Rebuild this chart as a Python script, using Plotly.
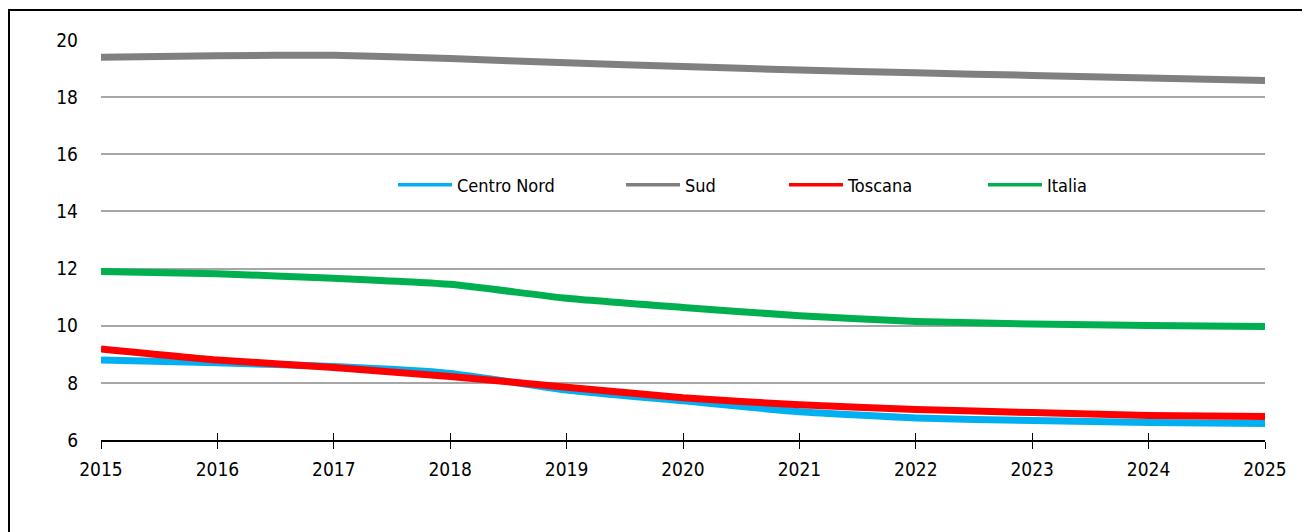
import plotly.graph_objects as go

years = [2015, 2016, 2017, 2018, 2019, 2020, 2021, 2022, 2023, 2024, 2025]
centro_nord = [8.80, 8.70, 8.57, 8.33, 7.75, 7.37, 6.99, 6.77, 6.68, 6.61, 6.58]
sud = [19.40, 19.45, 19.47, 19.35, 19.20, 19.07, 18.95, 18.85, 18.76, 18.67, 18.58]
toscana = [9.19, 8.80, 8.54, 8.22, 7.85, 7.48, 7.23, 7.07, 6.96, 6.86, 6.82]
italia = [11.90, 11.82, 11.66, 11.45, 10.96, 10.64, 10.35, 10.15, 10.06, 10.01, 9.97]
y_ticks = [6, 8, 10, 12, 14, 16, 18, 20]

series = [
    ("Centro Nord", centro_nord, "#00B0F0", "legend"),
    ("Sud", sud, "#808080", "legend2"),
    ("Toscana", toscana, "#FF0000", "legend3"),
    ("Italia", italia, "#00B050", "legend4"),
]

FONT = "Liberation Sans Narrow, DejaVu Sans Condensed, Arial Narrow, Liberation Sans, sans-serif"

fig = go.Figure()
for name, vals, color, lg in series:
    fig.add_trace(go.Scatter(x=years, y=vals, mode="lines", name=name,
                             line=dict(color=color, width=7, shape="spline", smoothing=0.5),
                             showlegend=False, hoverinfo="skip"))
for name, vals, color, lg in series:
    fig.add_trace(go.Scatter(x=[None], y=[None], mode="lines", name=name,
                             line=dict(color=color, width=3.5), legend=lg, showlegend=True))

# secondary axis to draw the upper half of crossing tick marks
fig.add_trace(go.Scatter(x=years, y=[None]*len(years), xaxis="x2", showlegend=False, hoverinfo="skip"))

# page body offset of 8px in the browser
OFF = 8
W, H = 1310 - OFF, 532 - OFF
ml, mt = 101 - OFF, 40 - OFF
pw, ph = 1164, 400
mr, mb = W - ml - pw, H - mt - ph

def px_x(p):
    return (p - OFF - ml) / pw

def px_y(p):
    return (mt + ph - (p - OFF)) / ph

legend_common = dict(orientation="h", yanchor="middle", y=px_y(185), xanchor="left",
                     bgcolor="rgba(0,0,0,0)", font=dict(family=FONT, size=18, color="#000"),
                     itemwidth=54, tracegroupgap=0)
fig.update_layout(
    width=W, height=H,
    margin=dict(l=ml, r=mr, t=mt, b=mb),
    paper_bgcolor="white", plot_bgcolor="white",
    font=dict(family=FONT, size=19, color="#000"),
    xaxis=dict(range=[2015, 2025], tickmode="array", tickvals=years, ticktext=[str(y) for y in years],
               showgrid=False, zeroline=False, showline=True, linecolor="#000", linewidth=1.5,
               ticks="outside", ticklen=7, tickwidth=1.3, tickcolor="#000", ticklabelstandoff=4),
    xaxis2=dict(range=[2015, 2025], overlaying="x", tickmode="array", tickvals=years,
                showticklabels=False, showgrid=False, zeroline=False, showline=False,
                ticks="inside", ticklen=7, tickwidth=1.3, tickcolor="#000", side="bottom", anchor="y"),
    yaxis=dict(range=[6, 20], tickmode="array", tickvals=y_ticks, showgrid=True,
               gridcolor="#A6A6A6", gridwidth=1.5, zeroline=False, showline=False, ticks="",
               ticklabelstandoff=22),
    legend=dict(x=px_x(393), **legend_common),
    legend2=dict(x=px_x(621), **legend_common),
    legend3=dict(x=px_x(784), **legend_common),
    legend4=dict(x=px_x(983), **legend_common),
    shapes=[dict(type="rect", xref="paper", yref="paper",
                 x0=px_x(9), x1=px_x(1400), y0=px_y(700), y1=px_y(10),
                 line=dict(color="#000", width=2), fillcolor="rgba(0,0,0,0)", layer="below")],
    showlegend=True,
)

fig.write_html("out.html")
